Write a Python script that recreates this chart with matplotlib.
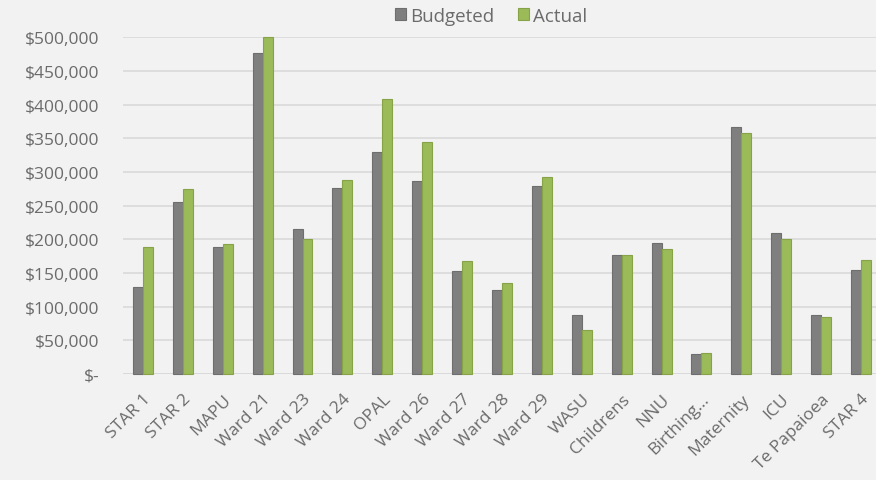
import matplotlib
matplotlib.use("Agg")
import matplotlib.pyplot as plt
import numpy as np
from matplotlib.ticker import FuncFormatter

# Ward budget vs actual spend
wards = ["STAR 1", "STAR 2", "MAPU", "Ward 21", "Ward 23", "Ward 24", "OPAL",
         "Ward 26", "Ward 27", "Ward 28", "Ward 29", "WASU", "Childrens", "NNU",
         "Birthing...", "Maternity", "ICU", "Te Papaioea", "STAR 4"]
budgeted = [129000, 255000, 188000, 477000, 215000, 276000, 329000, 287000,
            153000, 124000, 279000, 87000, 176000, 195000, 29000, 367000,
            209000, 88000, 155000]
actual = [188000, 274000, 193000, 500000, 200000, 288000, 408000, 344000,
          168000, 135000, 292000, 66000, 176000, 186000, 31000, 358000,
          200000, 84000, 169000]
y_ticks = [0, 50000, 100000, 150000, 200000, 250000, 300000, 350000, 400000,
           450000, 500000]

bg = "#f2f2f2"
text_col = "#6b6b6b"
font = "Open Sans"

fig = plt.figure(figsize=(8.76, 4.81), dpi=100, facecolor=bg)
ax = fig.add_axes([123 / 876, 1 - 375 / 481, 758 / 876, (375 - 38.3) / 481])
ax.set_facecolor(bg)

x = np.arange(len(wards))
w = 0.25
ax.bar(x - w / 2, budgeted, width=w, color="#7f7f7f", edgecolor="#6e6e6e",
       linewidth=0.8, label="Budgeted", zorder=3, clip_on=False)
ax.bar(x + w / 2, actual, width=w, color="#9bbb59", edgecolor="#86a447",
       linewidth=0.8, label="Actual", zorder=3, clip_on=False)

ax.set_xlim(-0.5, len(wards) - 0.5)
ax.set_ylim(0, 500000)
ax.set_yticks(y_ticks)


def money(v, _):
    return "$-" if v == 0 else f"${int(v):,}"


ax.yaxis.set_major_formatter(FuncFormatter(money))
ax.yaxis.grid(True, color="#d9d9d9", linewidth=1.2, zorder=0)
ax.set_axisbelow(True)
for s in ax.spines.values():
    s.set_visible(False)
ax.axhline(0, color="#d9d9d9", linewidth=1.2, zorder=1)

ax.set_xticks(x)
ax.set_xticklabels(wards, rotation=45, ha="right", rotation_mode="anchor",
                   fontsize=12.5, color=text_col, family=font)
ax.tick_params(axis="both", length=0)
ax.tick_params(axis="x", pad=12)
ax.tick_params(axis="y", pad=17)
for lbl in ax.get_yticklabels():
    lbl.set_fontsize(12.5)
    lbl.set_color(text_col)
    lbl.set_family(font)

leg = fig.legend(loc="center", bbox_to_anchor=(491 / 876, 1 - 17 / 481),
                 ncol=2, frameon=False, handlelength=0.6, handleheight=0.6,
                 handletextpad=0.2, columnspacing=1.3,
                 prop={"family": font, "size": 13.5})
for t in leg.get_texts():
    t.set_color(text_col)

fig.savefig("out.png", dpi=100, facecolor=bg)
